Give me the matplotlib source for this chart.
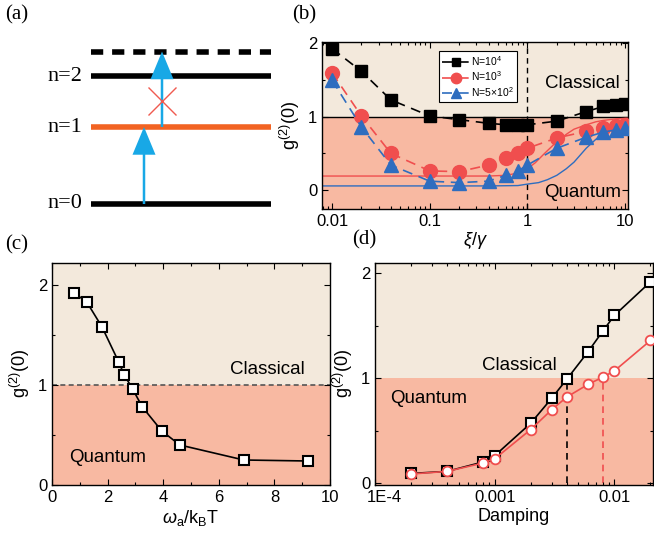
import numpy as np
import matplotlib
matplotlib.use("Agg")
import matplotlib.pyplot as plt
import matplotlib.transforms as mtransforms
from matplotlib.ticker import FixedLocator, FuncFormatter, LogLocator, NullFormatter

plt.rcParams['font.family'] = ['Liberation Sans', 'DejaVu Sans']
plt.rcParams['mathtext.fontset'] = 'custom'
plt.rcParams['mathtext.rm'] = 'Liberation Sans'
plt.rcParams['mathtext.it'] = 'Liberation Sans:italic'

# ---- data -------------------------------------------------------------
# (a) energy levels (units of the n=1 level) and the two-photon energy
level_names = ['n=0', 'n=1', 'n=2']
level_energy = [0.0, 1.0, 1.66]
two_photon_energy = 1.98

# (b) g2(0) vs xi/gamma
xi = [0.01, 0.02, 0.04, 0.1, 0.2, 0.4, 0.6, 0.8, 1, 2, 4, 6, 8, 10]
g_N1e4 = [1.93, 1.62, 1.23, 1.01, 0.96, 0.91, 0.89, 0.89, 0.89, 0.94, 1.07, 1.14, 1.16, 1.17]
g_N1e3 = [1.60, 1.01, 0.50, 0.26, 0.25, 0.34, 0.43, 0.50, 0.57, 0.71, 0.80, 0.85, 0.88, 0.89]
g_N5e2 = [1.50, 0.86, 0.34, 0.12, 0.10, 0.12, 0.20, 0.26, 0.34, 0.57, 0.72, 0.79, 0.82, 0.84]
# analytic curves
xi_fit_red = [0.0079, 0.1, 0.4, 0.6, 0.8, 1.0, 1.2, 1.5, 2.0, 2.5, 3, 4, 5, 6, 8, 10.7]
g_fit_red = [0.19, 0.19, 0.19, 0.20, 0.23, 0.29, 0.37, 0.50, 0.66, 0.76, 0.83, 0.89, 0.93, 0.95, 0.97, 0.98]
xi_fit_blue = [0.0079, 0.1, 0.4, 0.8, 1.0, 1.3, 1.6, 2.0, 2.5, 3, 4, 5, 6, 8, 10.7]
g_fit_blue = [0.055, 0.055, 0.055, 0.06, 0.08, 0.10, 0.14, 0.20, 0.29, 0.38, 0.57, 0.69, 0.77, 0.86, 0.92]

# (c) g2(0) vs omega_a / k_B T
wT = [0.8, 1.25, 1.8, 2.4, 2.6, 2.9, 3.25, 3.95, 4.6, 6.9, 9.2]
g_wT = [1.92, 1.83, 1.58, 1.23, 1.10, 0.96, 0.78, 0.54, 0.40, 0.25, 0.24]

# (d) g2(0) vs damping
damp_black = [2e-4, 4e-4, 8e-4, 1e-3, 2e-3, 3e-3, 4e-3, 6e-3, 8e-3, 1e-2, 2e-2]
g_black = [0.09, 0.11, 0.20, 0.26, 0.57, 0.81, 0.99, 1.25, 1.45, 1.60, 1.92]
damp_red = [2e-4, 4e-4, 8e-4, 1e-3, 2e-3, 3e-3, 4e-3, 6e-3, 8e-3, 1e-2, 2e-2]
g_red = [0.085, 0.11, 0.19, 0.23, 0.51, 0.70, 0.82, 0.94, 1.01, 1.07, 1.36]
threshold_black = (4e-3, 0.99)
threshold_red = (8.1e-3, 1.01)

BEIGE = '#F3E9DC'
SALMON = '#F8B9A2'
RED = '#F04E4E'
BLUE = '#2E6DBF'
W, H = 654, 540

fig = plt.figure(figsize=(W / 100, H / 100), dpi=100)


def px_axes(l, t, r, b):
    return fig.add_axes([l / W, 1 - b / H, (r - l) / W, (b - t) / H])


def shade(ax):
    ax.axhspan(1, 10, color=BEIGE, zorder=0, lw=0)
    ax.axhspan(-10, 1, color=SALMON, zorder=0, lw=0)


def style(ax):
    ax.tick_params(which='both', direction='in', top=True, right=True, labelsize=12, width=0.8)
    ax.tick_params(which='major', length=4)
    ax.tick_params(which='minor', length=2.5)
    for s in ax.spines.values():
        s.set_linewidth(1.0)


def panel_label(x, y, s):
    fig.text(x / W, 1 - y / H, s, family='Liberation Serif', fontsize=15, va='center', ha='left')


# ---- (a) level scheme ---------------------------------------------------
ax = px_axes(0, 0, 300, 230)
ax.set_xlim(0, 300)
ax.set_ylim((204 - 230) / 77, 204 / 77)
ax.axis('off')
lvl_colors = ['black', '#F26322', 'black']
for name, e, c in zip(level_names, level_energy, lvl_colors):
    ax.plot([91, 271], [e, e], color=c, lw=4, solid_capstyle='butt')
    ax.text(82, e, name, family='Liberation Serif', fontsize=16, ha='right', va='center')
ax.plot([91, 271], [two_photon_energy, two_photon_energy], color='black', lw=4,
        linestyle=(0, (2.2, 1.6)), dash_capstyle='butt')
arrow_kw = dict(width=2.5, head_width=23, head_length=0.36, length_includes_head=True,
                color='#18A8E6', lw=0, zorder=3)
ax.arrow(144, level_energy[0], 0, level_energy[1] - level_energy[0], **arrow_kw)
ax.arrow(162, level_energy[1], 0, two_photon_energy - level_energy[1], **arrow_kw)
ax.plot([162], [(level_energy[1] + level_energy[2]) / 2 + 0.01], marker='x', ms=20,
        mew=1.0, color='#F05A50', zorder=4)

# ---- (b) ----------------------------------------------------------------
ax = px_axes(322, 42, 628, 209)
shade(ax)
ax.set_xscale('log')
ax.set_xlim(0.0079, 10.7)
ax.set_ylim(-0.26, 2.02)
ax.axhline(1, color='black', lw=1, zorder=1)
ax.axvline(1, color='black', lw=1, ls=(0, (4, 3)), zorder=1)
ax.plot(xi_fit_red, g_fit_red, color=RED, lw=1, zorder=2)
ax.plot(xi_fit_blue, g_fit_blue, color=BLUE, lw=1, zorder=2)
dash = (0, (6, 4))
ax.plot(xi, g_N1e4, color='black', ls=dash, lw=1.2, marker='s', ms=8.5,
        label=r'N=10$^4$', zorder=4)
ax.plot(xi, g_N1e3, color=RED, ls=dash, lw=1.2, marker='o', ms=10,
        label=r'N=10$^3$', zorder=3)
ax.plot(xi, g_N5e2, color=BLUE, ls=dash, lw=1.2, marker='^', ms=10,
        label=r'N=5$\times$10$^2$', zorder=3)
leg = ax.legend(loc='upper left', bbox_to_anchor=(0.382, 0.946), borderaxespad=0,
                fontsize=7.5, markerscale=0.75, handlelength=2.6, handletextpad=0.2,
                labelspacing=0.15, borderpad=0.3, fancybox=False, framealpha=1,
                edgecolor='black')
leg.get_frame().set_linewidth(0.8)
ax.yaxis.set_major_locator(FixedLocator([0, 1, 2]))
ax.yaxis.set_minor_locator(FixedLocator([0.5, 1.5]))
ax.xaxis.set_major_locator(FixedLocator([0.01, 0.1, 1, 10]))
ax.xaxis.set_major_formatter(FuncFormatter(lambda v, p: f'{v:g}'))
ax.xaxis.set_minor_locator(LogLocator(base=10, subs=np.arange(2, 10)))
ax.xaxis.set_minor_formatter(NullFormatter())
style(ax)
ax.text(3.66, 1.45, 'Classical', fontsize=13.5, ha='center', va='center')
ax.text(3.66, -0.04, 'Quantum', fontsize=13.5, ha='center', va='center')
ax.set_xlabel(r'$\xi/\gamma$', fontsize=13, labelpad=1)
ax.set_ylabel(r'g$^{(2)}$(0)', fontsize=13, labelpad=4)
panel_label(292, 15, '(b)')

# ---- (c) ----------------------------------------------------------------
ax = px_axes(52, 263, 330, 485)
shade(ax)
ax.set_xlim(0, 10)
ax.set_ylim(0, 2.22)
ax.axhline(1, color='#555555', lw=1.2, ls=(0, (3, 2)), zorder=1)
ax.plot(wT, g_wT, color='black', lw=1.2, marker='s', ms=7.5, mfc='white', mec='black',
        mew=1.5, zorder=3)
ax.xaxis.set_major_locator(FixedLocator([0, 2, 4, 6, 8, 10]))
ax.xaxis.set_minor_locator(FixedLocator([1, 3, 5, 7, 9]))
ax.yaxis.set_major_locator(FixedLocator([0, 1, 2]))
ax.yaxis.set_minor_locator(FixedLocator([0.5, 1.5]))
style(ax)
ax.text(7.73, 1.16, 'Classical', fontsize=13.5, ha='center', va='center')
ax.text(2.0, 0.27, 'Quantum', fontsize=13.5, ha='center', va='center')
ax.set_xlabel(r'$\omega_{\rm a}$/k$_{\rm B}$T', fontsize=13, labelpad=2)
ax.set_ylabel(r'g$^{(2)}$(0)', fontsize=13, labelpad=4)
panel_label(5, 245, '(c)')

# ---- (d) ----------------------------------------------------------------
ax = px_axes(375, 263, 653, 485)
shade(ax)
ax.set_xscale('log')
ax.set_xlim(1e-4, 0.021)
ax.set_ylim(-0.02, 2.1)
ax.plot([threshold_black[0]] * 2, [0, threshold_black[1]], color='black', lw=1.2,
        ls=(0, (4, 3)), zorder=1)
ax.plot([threshold_red[0]] * 2, [0, threshold_red[1]], color=RED, lw=1.2,
        ls=(0, (4, 3)), zorder=1)
ax.plot(damp_black, g_black, color='black', lw=1.2, marker='s', ms=7.5, mfc='white',
        mec='black', mew=1.5, zorder=3)
ax.plot(damp_red, g_red, color=RED, lw=1.2, marker='o', ms=7, mfc='white',
        mec=RED, mew=1.3, zorder=4)
ax.xaxis.set_major_locator(FixedLocator([1e-4, 1e-3, 1e-2]))
ax.xaxis.set_major_formatter(FuncFormatter(
    lambda v, p: {1e-4: '1E-4', 1e-3: '0.001', 1e-2: '0.01'}.get(v, '')))
ax.xaxis.set_minor_locator(LogLocator(base=10, subs=np.arange(2, 10)))
ax.xaxis.set_minor_formatter(NullFormatter())
ax.yaxis.set_major_locator(FixedLocator([0, 1, 2]))
ax.yaxis.set_minor_locator(FixedLocator([0.5, 1.5]))
style(ax)
# first tick label sits a little to the right in the original
first = ax.get_xticklabels()[0]
first.set_transform(first.get_transform() +
                    mtransforms.ScaledTranslation(0.09, 0, fig.dpi_scale_trans))
ax.text(1.62e-3, 1.12, 'Classical', fontsize=13.5, ha='center', va='center')
ax.text(2.8e-4, 0.81, 'Quantum', fontsize=13.5, ha='center', va='center')
ax.set_xlabel('Damping', fontsize=13, labelpad=2)
ax.set_ylabel(r'g$^{(2)}$(0)', fontsize=13, labelpad=4)
panel_label(352, 240, '(d)')

panel_label(5, 15, '(a)')

fig.savefig('out.png', dpi=100)
